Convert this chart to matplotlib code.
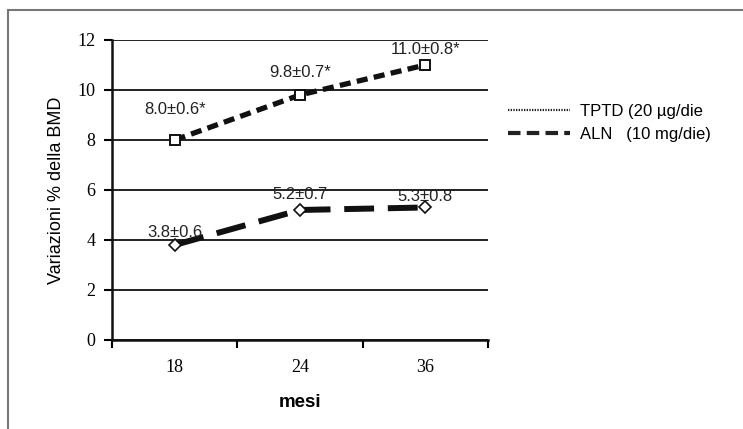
import matplotlib

matplotlib.use("Agg")
import matplotlib.pyplot as plt
from matplotlib.lines import Line2D

# data
months = ["18", "24", "36"]
tptd = [8.0, 9.8, 11.0]
aln = [3.8, 5.2, 5.3]
tptd_labels = ["8.0±0.6*", "9.8±0.7*", "11.0±0.8*"]
aln_labels = ["3.8±0.6", "5.2±0.7", "5.3±0.8"]
tptd_offsets = [1.2, 0.9, 0.6]
aln_offsets = [0.5, 0.6, 0.45]
yticks = [0, 2, 4, 6, 8, 10, 12]
legend_names = ["TPTD (20 µg/die", "ALN   (10 mg/die)"]

sans = ["Liberation Sans", "DejaVu Sans"]
serif = ["Liberation Serif", "DejaVu Serif"]

fig = plt.figure(figsize=(7.43, 4.29), dpi=100)
ax = fig.add_axes([0.1507, 0.2075, 0.5061, 0.6993])

x = list(range(len(months)))

ax.plot(x, tptd, color="#111111", lw=3.8, dashes=(2.1, 1.2), zorder=3)
ax.plot(x, tptd, ls="none", marker="s", ms=7.5, mfc="white", mec="#111111",
        mew=1.4, zorder=4)
ax.plot(x, aln, color="#111111", lw=4.3, dashes=(5.0, 2.3), zorder=3)
ax.plot(x, aln, ls="none", marker="D", ms=6.5, mfc="white", mec="#111111",
        mew=1.2, zorder=4)

for xi, v, lab, off in zip(x, tptd, tptd_labels, tptd_offsets):
    ax.text(xi, v + off, lab, ha="center", va="center", fontsize=12,
            family=sans, color="#222222", zorder=5)
for xi, v, lab, off in zip(x, aln, aln_labels, aln_offsets):
    ax.text(xi, v + off, lab, ha="center", va="center", fontsize=12,
            family=sans, color="#222222", zorder=5)

ax.set_xlim(-0.5, 2.5)
ax.set_ylim(0, 12)
ax.set_yticks(yticks)
ax.set_yticklabels([str(t) for t in yticks], family=serif, fontsize=13)
ax.set_xticks(x)
ax.set_xticklabels(months, family=serif, fontsize=13)
ax.set_xticks([-0.5, 0.5, 1.5, 2.5], minor=True)
ax.tick_params(axis="x", which="major", length=0, pad=14)
ax.tick_params(axis="x", which="minor", length=6, width=1.5, direction="out")
ax.tick_params(axis="y", length=6, width=1.5, direction="out", pad=6)

ax.grid(axis="y", color="#111111", lw=1.3)
ax.set_axisbelow(True)
for side in ["top", "right"]:
    ax.spines[side].set_visible(False)
for side in ["left", "bottom"]:
    ax.spines[side].set_linewidth(1.8)
    ax.spines[side].set_color("#111111")

ax.set_ylabel("Variazioni % della BMD", family=sans, fontsize=13, labelpad=9)
ax.set_xlabel("mesi", family=sans, fontsize=13.5, fontweight="bold",
              labelpad=13)

handles = [
    Line2D([], [], color="#222222", lw=1.6, ls=(0, (0.6, 0.6))),
    Line2D([], [], color="#222222", lw=3, ls=(0, (3, 1.5))),
]
fig.legend(handles, legend_names, loc="upper left",
           bbox_to_anchor=(0.664, 0.792), frameon=False, handlelength=3.7,
           handletextpad=0.6, labelspacing=0.45,
           prop={"family": sans, "size": 12})

# partial frame round the picture (top and left only)
fig.add_artist(Line2D([0.0108, 1.0], [1 - 10 / 429, 1 - 10 / 429],
                      color="#777777", lw=1.5, transform=fig.transFigure))
fig.add_artist(Line2D([0.0108, 0.0108], [0.0, 1 - 10 / 429],
                      color="#777777", lw=1.5, transform=fig.transFigure))

fig.savefig("out.png", dpi=100)
plt.close(fig)
